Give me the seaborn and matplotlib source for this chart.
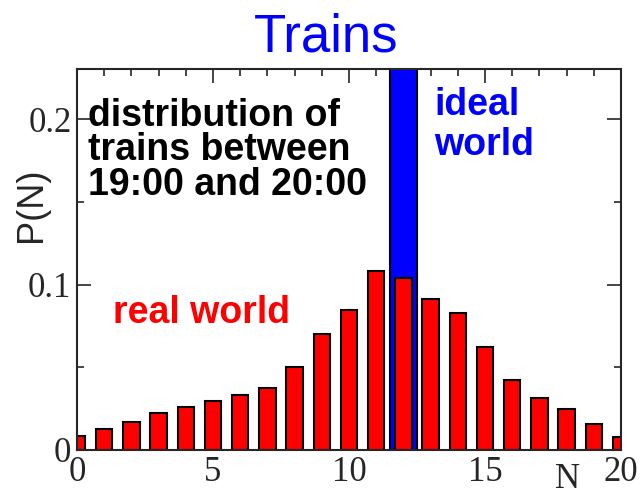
import numpy as np
import pandas as pd
import seaborn as sns
import matplotlib.pyplot as plt
from matplotlib.ticker import MultipleLocator, FuncFormatter

sns.set_style("ticks")
plt.rcParams["font.family"] = ["Liberation Serif", "DejaVu Serif"]

# === data ===
n_trains = list(range(0, 21))
p_real = [0.0085, 0.0127, 0.0168, 0.0222, 0.0262, 0.0294, 0.0335, 0.0377,
          0.050, 0.070, 0.085, 0.108, 0.104, 0.0913, 0.083, 0.0625,
          0.0424, 0.0317, 0.025, 0.0157, 0.008]
n_ideal = [12]
p_ideal = [1.0]

df_real = pd.DataFrame({"N": n_trains, "P": p_real})
df_ideal = pd.DataFrame({"N": n_ideal, "P": p_ideal})

fig = plt.figure(figsize=(6.4, 4.95), dpi=100)
ax = fig.add_axes([77 / 640, 1 - 450 / 495, 544 / 640, 381 / 495])

sns.barplot(data=df_ideal, x="N", y="P", native_scale=True, width=1.0,
            color="#0000ff", saturation=1, edgecolor="black", linewidth=1.5,
            errorbar=None, ax=ax, zorder=1)
sns.barplot(data=df_real, x="N", y="P", native_scale=True, width=0.6,
            color="#ff0000", saturation=1, edgecolor="black", linewidth=1.5,
            errorbar=None, ax=ax, zorder=2)

ax.set_xlim(0, 20)
ax.set_ylim(0, 0.2305)
ax.xaxis.set_major_locator(MultipleLocator(5))
ax.xaxis.set_minor_locator(MultipleLocator(1))
ax.xaxis.set_major_formatter(FuncFormatter(lambda v, p: f"{v:g}"))
ax.yaxis.set_major_locator(MultipleLocator(0.1))
ax.yaxis.set_minor_locator(MultipleLocator(0.05))
ax.yaxis.set_major_formatter(FuncFormatter(lambda v, p: f"{v:.1f}" if v > 0 else "0"))
ax.tick_params(which="both", direction="in", top=True, right=True, width=1.2)
ax.tick_params(which="major", length=10, labelsize=25, pad=4)
ax.tick_params(which="minor", length=5)
for s in ax.spines.values():
    s.set_linewidth(1.5)
    s.set_visible(True)

ax.set_xlabel("")
ax.set_ylabel("")
fig.text(32 / 640, 1 - 205 / 495, "P(N)", rotation=90, fontsize=26,
         family="Liberation Sans", ha="center", va="center")
fig.text(567 / 640, 1 - 480 / 495, "N", fontsize=25, ha="center", va="center")
fig.text(326 / 640, 1 - 52 / 495, "Trains", fontsize=38, color="#0000ff",
         family="Liberation Sans", ha="center", va="baseline")

# in-plot labels (va=baseline aligns the last line)
fig.text(88 / 640, 1 - 195 / 495, "distribution of\ntrains between\n19:00 and 20:00",
         fontsize=27, fontweight="bold", family="Liberation Sans", color="black",
         va="baseline", ha="left", linespacing=0.95, multialignment="left")
fig.text(434 / 640, 1 - 155 / 495, "ideal\nworld", fontsize=27, fontweight="bold",
         family="Liberation Sans", color="#0000ff", va="baseline", ha="left",
         linespacing=1.15)
fig.text(113 / 640, 1 - 323 / 495, "real world", fontsize=27, fontweight="bold",
         family="Liberation Sans", color="#ff0000", va="baseline", ha="left")

fig.savefig("out.png", dpi=100)
